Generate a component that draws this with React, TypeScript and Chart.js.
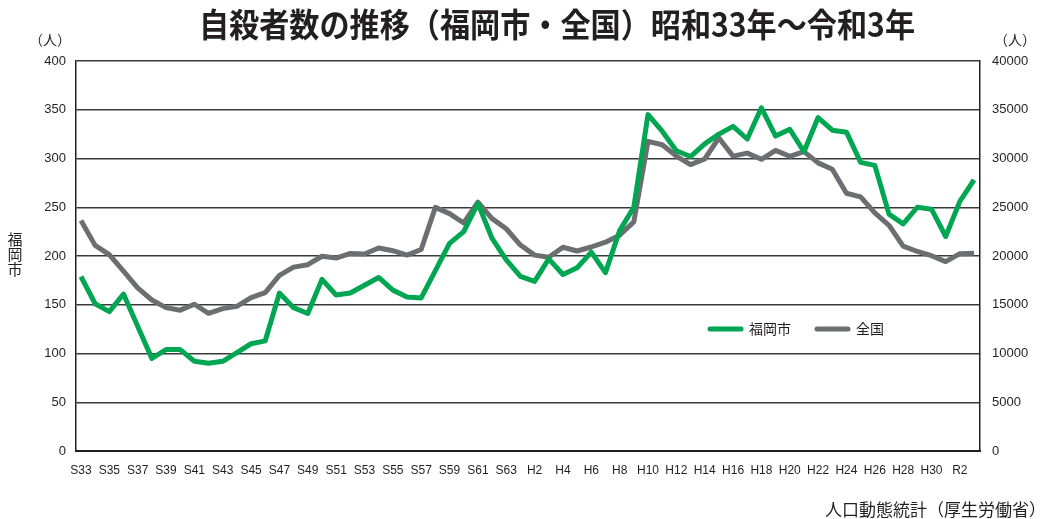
import React, { useEffect, useRef } from "react";
import { Chart, registerables } from "chart.js";

Chart.register(...registerables);

const yearLabels = [
  "S33", "S34", "S35", "S36", "S37", "S38", "S39", "S40", "S41", "S42", "S43", "S44", "S45", "S46", "S47", "S48",
  "S49", "S50", "S51", "S52", "S53", "S54", "S55", "S56", "S57", "S58", "S59", "S60", "S61", "S62", "S63",
  "H1", "H2", "H3", "H4", "H5", "H6", "H7", "H8", "H9", "H10", "H11", "H12", "H13", "H14", "H15", "H16",
  "H17", "H18", "H19", "H20", "H21", "H22", "H23", "H24", "H25", "H26", "H27", "H28", "H29", "H30",
  "R1", "R2", "R3",
];

const fukuokaValues = [
  179, 151, 143, 161, 128, 95, 104, 104, 92, 90, 92, 101, 110, 113, 162, 147,
  141, 176, 160, 162, 170, 178, 165, 158, 157, 185, 213, 225, 254, 218, 196,
  179, 174, 197, 181, 188, 204, 183, 226, 250, 345, 328, 308, 302, 315, 325, 333,
  320, 352, 323, 330, 307, 342, 329, 327, 296, 293, 243, 233, 250, 248,
  220, 256, 278,
];

const nationalValues = [
  23641, 21090, 20143, 18446, 16724, 15490, 14707, 14444, 15050, 14121, 14601, 14844, 15728, 16239, 18015, 18859,
  19105, 19975, 19786, 20269, 20199, 20823, 20542, 20096, 20668, 24985, 24344, 23383, 25524, 23831, 22795,
  21125, 20088, 19875, 20893, 20516, 20923, 21420, 22138, 23494, 31755, 31413, 30251, 29375, 29949, 32109, 30247,
  30553, 29921, 30827, 30229, 30707, 29554, 28896, 26433, 26063, 24417, 23152, 21017, 20465, 20031,
  19425, 20243, 20291,
];

const leftTicks = [0, 50, 100, 150, 200, 250, 300, 350, 400];
const rightTicks = [0, 5000, 10000, 15000, 20000, 25000, 30000, 35000, 40000];

const titleText = "自殺者数の推移（福岡市・全国）昭和33年～令和3年";
const seriesNames = ["福岡市", "全国"];
const unitText = "（人）";
const sourceText = "人口動態統計（厚生労働省）";

const GREEN = "#00a651";
const GREY = "#6d6e71";
const INK = "#231f20";
const CJK = '"Noto Sans CJK JP", "Noto Sans CJK SC", sans-serif';
const NUM = '"Liberation Sans", Arial, sans-serif';

const textPlugin = {
  id: "textPlugin",
  afterDraw(chart: any) {
    const ctx = chart.ctx;
    ctx.save();
    ctx.fillStyle = INK;
    ctx.textBaseline = "middle";

    ctx.font = `bold 33px ${CJK}`;
    ctx.textAlign = "center";
    ctx.fillText(titleText, 557, 24, 716);

    ctx.font = `14px ${CJK}`;
    ctx.fillText(unitText, 50, 40);
    ctx.fillText(unitText, 1015, 40);

    ctx.font = `15px ${CJK}`;
    const axisChars = Array.from(seriesNames[0]);
    axisChars.forEach((c, i) => ctx.fillText(c, 15, 239 + i * 15));

    // legend
    const ly = 329;
    const items = [
      { x: 708, color: GREEN, label: seriesNames[0] },
      { x: 815, color: GREY, label: seriesNames[1] },
    ];
    items.forEach((it) => {
      ctx.strokeStyle = it.color;
      ctx.lineWidth = 5;
      ctx.lineCap = "round";
      ctx.beginPath();
      ctx.moveTo(it.x + 2, ly);
      ctx.lineTo(it.x + 33, ly);
      ctx.stroke();
      ctx.font = `14px ${CJK}`;
      ctx.textAlign = "left";
      ctx.fillStyle = INK;
      ctx.fillText(it.label, it.x + 41, ly);
    });

    ctx.font = `17px ${CJK}`;
    ctx.textAlign = "right";
    ctx.fillText(sourceText, 1046, 510, 226);
    ctx.restore();
  },
};

export default function App() {
  const canvasRef = useRef<HTMLCanvasElement | null>(null);

  useEffect(() => {
    document.body.style.margin = "0";
    const canvas = canvasRef.current;
    if (!canvas) return;
    const chart = new Chart(canvas, {
      type: "line",
      data: {
        datasets: [
          {
            label: seriesNames[0],
            data: fukuokaValues.map((v, i) => ({ x: i, y: v })),
            borderColor: GREEN,
            backgroundColor: GREEN,
            borderWidth: 5,
            pointRadius: 0,
            tension: 0,
            borderJoinStyle: "round",
            yAxisID: "y",
          },
          {
            label: seriesNames[1],
            data: nationalValues.map((v, i) => ({ x: i, y: v })),
            borderColor: GREY,
            backgroundColor: GREY,
            borderWidth: 5,
            pointRadius: 0,
            tension: 0,
            borderJoinStyle: "round",
            yAxisID: "y2",
          },
        ],
      },
      options: {
        responsive: false,
        animation: false,
        layout: { padding: { top: 61, left: 0, right: 0, bottom: 0 } },
        plugins: {
          legend: { display: false },
          title: { display: false },
          tooltip: { enabled: false },
        },
        scales: {
          x: {
            type: "linear",
            min: -0.35,
            max: 63.42,
            grid: { display: false, drawTicks: false },
            border: { display: true, color: INK, width: 2 },
            afterBuildTicks: (s: any) => {
              s.ticks = yearLabels
                .map((_, i) => ({ value: i }))
                .filter((t) => t.value % 2 === 0);
            },
            afterFit: (s: any) => {
              s.height = 68;
            },
            ticks: {
              autoSkip: false,
              maxRotation: 0,
              minRotation: 0,
              padding: 12,
              color: INK,
              font: { family: NUM, size: 12 },
              callback: (v: any) => yearLabels[v as number] ?? "",
            },
          },
          y: {
            position: "left",
            min: 0,
            max: 400,
            afterBuildTicks: (s: any) => {
              s.ticks = leftTicks.map((v) => ({ value: v }));
            },
            afterFit: (s: any) => {
              s.width = 76;
            },
            grid: { color: "#3a3a3a", lineWidth: 1.4, drawTicks: false },
            border: { display: true, color: INK, width: 1.5 },
            ticks: {
              padding: 10,
              color: INK,
              font: { family: NUM, size: 13 },
            },
          },
          y2: {
            position: "right",
            min: 0,
            max: 40000,
            afterBuildTicks: (s: any) => {
              s.ticks = rightTicks.map((v) => ({ value: v }));
            },
            afterFit: (s: any) => {
              s.width = 68;
            },
            grid: { display: false, drawTicks: false },
            border: { display: true, color: INK, width: 1.5 },
            ticks: {
              padding: 12,
              color: INK,
              font: { family: NUM, size: 13 },
              callback: (v: any) => String(v),
            },
          },
        },
      },
      plugins: [textPlugin],
    } as any);
    return () => chart.destroy();
  }, []);

  return (
    <div style={{ width: 1048, height: 519, background: "#ffffff" }}>
      <canvas ref={canvasRef} width={1048} height={519} />
    </div>
  );
}
